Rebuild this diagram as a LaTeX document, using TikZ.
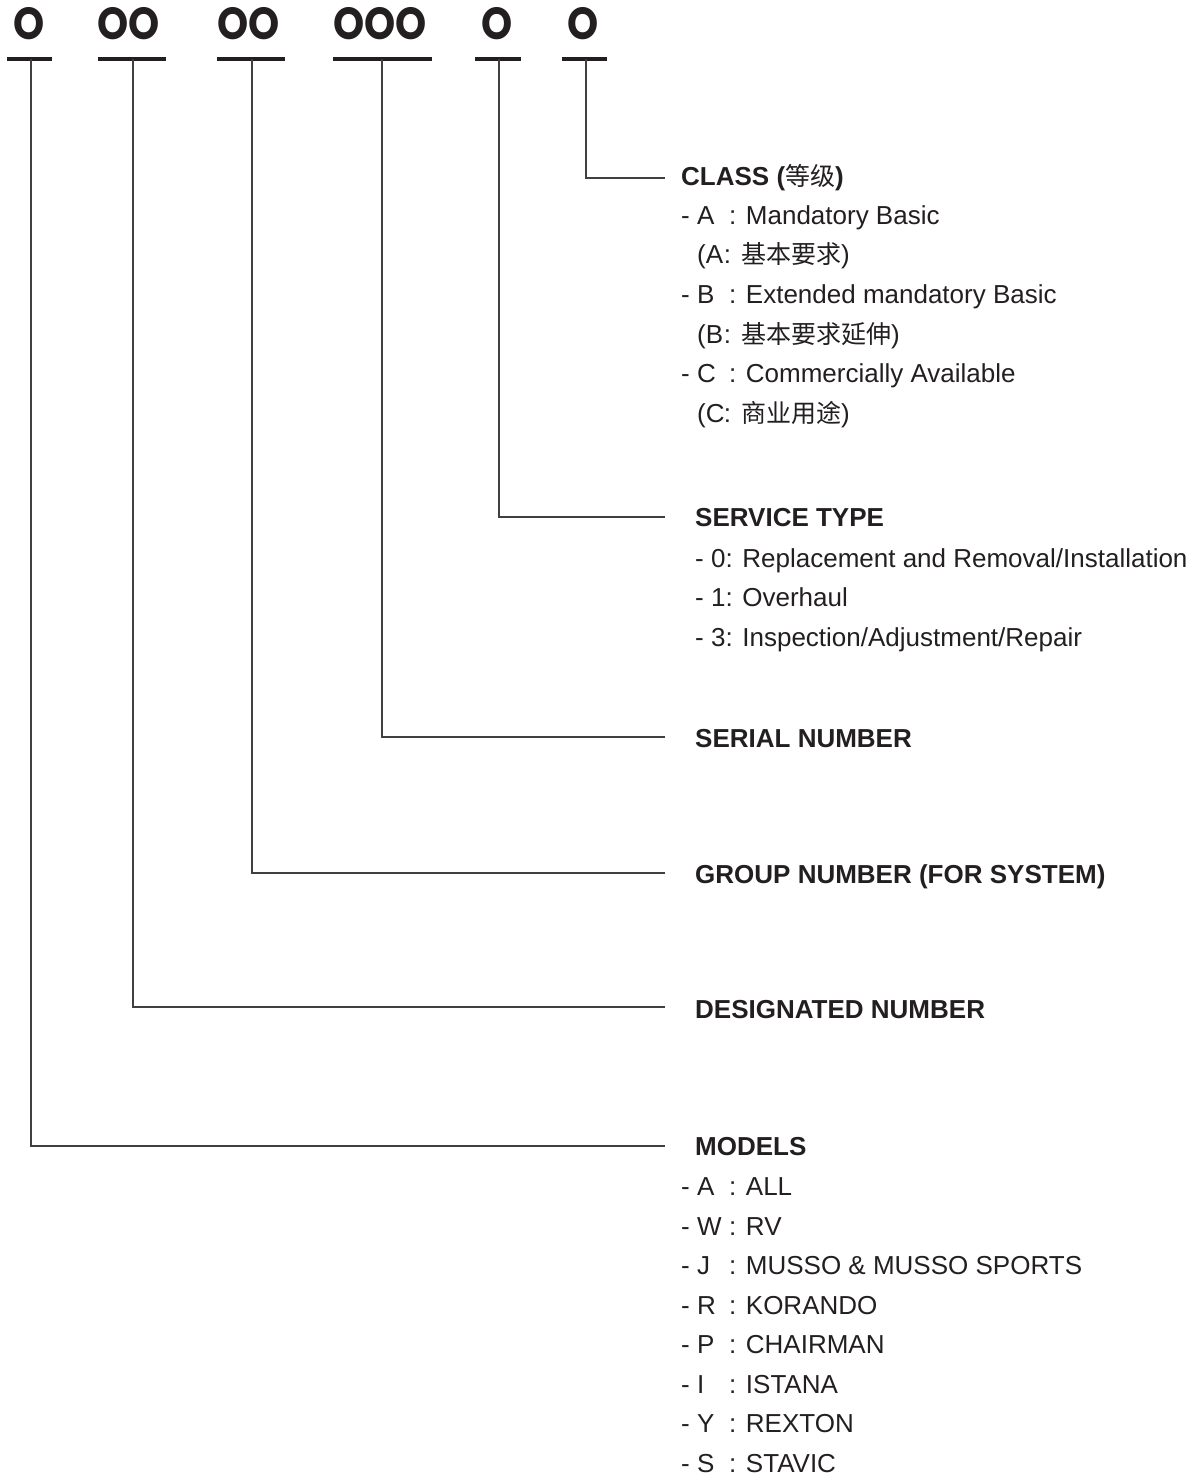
\documentclass[tikz,border=0pt]{standalone}
\usepackage{fontspec}
\setmainfont{Liberation Sans}
\newfontfamily\cjk{Noto Sans CJK SC}
\newfontfamily\digitfont{Poppins}
\definecolor{ink}{HTML}{231F20}
\begin{document}
\begin{tikzpicture}[x=1pt,y=-1pt,
  txt/.style={anchor=base west,inner sep=0pt,text=ink,font=\fontsize{26}{30}\selectfont},
  head/.style={txt,font=\fontsize{26}{30}\selectfont\bfseries},
  dig/.style={anchor=center,inner sep=0pt,text=ink,font=\fontsize{45}{48}\selectfont\digitfont\bfseries},
  uline/.style={line width=3.5pt,draw=ink},
  conn/.style={line width=1.2pt,draw=black!75}]
\useasboundingbox (0,0) rectangle (1200,1478);
\newcommand{\lt}[1]{\makebox[32pt][l]{#1}}
\newcommand{\pl}[1]{\makebox[18pt][l]{#1}}
\newcommand{\dg}[1]{\scalebox{0.88}[1]{#1}}
% code digits
\node[dig] (d1) at (29.5,24) {\dg{O}};
\node[dig] (d2) at (128.5,24) {\dg{OO}};
\node[dig] (d3) at (248.5,24) {\dg{OO}};
\node[dig] (d4) at (380,24) {\dg{OOO}};
\node[dig] (d5) at (497,24) {\dg{O}};
\node[dig] (d6) at (583.5,24) {\dg{O}};
% underlines
\draw[uline] (7,59) -- (52,59);
\draw[uline] (98,59) -- (166,59);
\draw[uline] (217,59) -- (285,59);
\draw[uline] (333,59) -- (432,59);
\draw[uline] (475,59) -- (521,59);
\draw[uline] (562,59) -- (607,59);
\coordinate (u1) at (31,59);
\coordinate (u2) at (133,59);
\coordinate (u3) at (252,59);
\coordinate (u4) at (382,59);
\coordinate (u5) at (499,59);
\coordinate (u6) at (586,59);
\coordinate (e1) at (665,1146);
\coordinate (e2) at (665,1007);
\coordinate (e3) at (665,873);
\coordinate (e4) at (665,737);
\coordinate (e5) at (665,517);
\coordinate (e6) at (665,178);
\draw[conn] (u1) |- (e1);
\draw[conn] (u2) |- (e2);
\draw[conn] (u3) |- (e3);
\draw[conn] (u4) |- (e4);
\draw[conn] (u5) |- (e5);
\draw[conn] (u6) |- (e6);
% CLASS
\node[head] (class) at (681,185) {CLASS ({\cjk\mdseries\fontsize{25}{30}\selectfont 等级})};
\node[txt] (ca) at (681,224) {- \lt{A}: Mandatory Basic};
\node[txt] (cac) at (697,263) {(\pl{A}:\hspace{10pt}{\cjk\fontsize{25}{30}\selectfont 基本要求})};
\node[txt] (cb) at (681,303) {- \lt{B}: Extended mandatory Basic};
\node[txt] (cbc) at (697,343) {(\pl{B}:\hspace{10pt}{\cjk\fontsize{25}{30}\selectfont 基本要求延伸})};
\node[txt] (cc) at (681,382) {- \lt{C}: Commercially Available};
\node[txt] (ccc) at (697,422) {(\pl{C}:\hspace{10pt}{\cjk\fontsize{25}{30}\selectfont 商业用途})};
% SERVICE TYPE
\node[head] (serv) at (695,526) {SERVICE TYPE};
\node[txt] (s0) at (695,567) {- 0: Replacement and Removal/Installation};
\node[txt] (s1) at (695,606) {- 1: Overhaul};
\node[txt] (s3) at (695,646) {- 3: Inspection/Adjustment/Repair};
% others
\node[head] (serial) at (695,747) {SERIAL NUMBER};
\node[head] (group) at (695,883) {GROUP NUMBER (FOR SYSTEM)};
\node[head] (desig) at (695,1018) {DESIGNATED NUMBER};
% MODELS
\node[head] (models) at (695,1155) {MODELS};
\node[txt] (m1) at (681,1195) {- \lt{A}: ALL};
\node[txt] (m2) at (681,1235) {- \lt{W}: RV};
\node[txt] (m3) at (681,1274) {- \lt{J}: MUSSO \& MUSSO SPORTS};
\node[txt] (m4) at (681,1314) {- \lt{R}: KORANDO};
\node[txt] (m5) at (681,1353) {- \lt{P}: CHAIRMAN};
\node[txt] (m6) at (681,1393) {- \lt{I}: ISTANA};
\node[txt] (m7) at (681,1432) {- \lt{Y}: REXTON};
\node[txt] (m8) at (681,1472) {- \lt{S}: STAVIC};
\end{tikzpicture}
\end{document}
